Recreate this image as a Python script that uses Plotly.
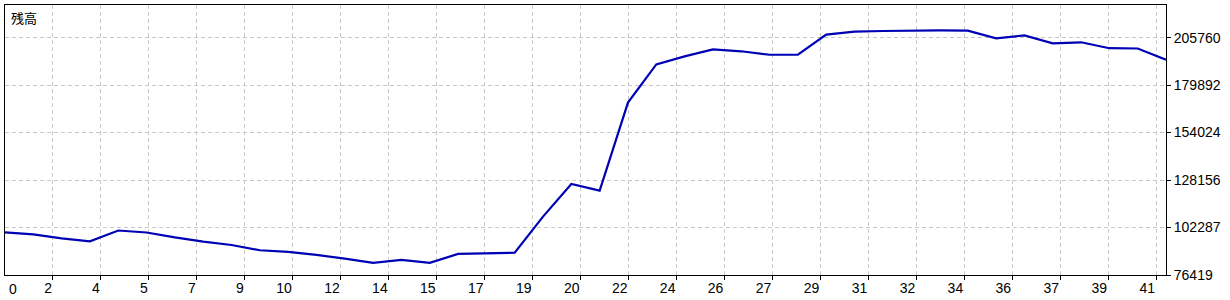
import plotly.graph_objects as go

# Deal index and balance values
deals = list(range(42))
balance = [
    99700, 98515, 96359, 94742, 100670, 99593, 96898, 94581, 92748, 89892,
    88976, 87359, 85311, 83048, 84664, 83048, 87898, 88383, 88545, 108215,
    126000, 122389, 170353, 191209, 195520, 199401, 198323, 196436, 196500, 207377,
    208993, 209371, 209640, 209694, 209532, 205382, 206999, 202688, 203227, 199994,
    199832, 193742,
]

# Axis tick labels
x_tick_labels = ["0", "2", "4", "5", "7", "9", "10", "12", "14", "15", "17", "19", "20",
                 "22", "24", "26", "27", "29", "31", "32", "34", "36", "37", "39", "41"]
y_tick_values = [76419, 102287, 128156, 154024, 179892, 205760]
y_tick_labels = ["76419", "102287", "128156", "154024", "179892", "205760"]
series_name = "残高"

# layout geometry
W, H = 1230, 300
L, R, T, B = 4, 64, 4, 23
plot_w = W - L - R
plot_h = H - T - B
x_max = deals[-1]
grid_px = 48
x_step = grid_px * x_max / plot_w
x_tick_vals = [k * x_step for k in range(len(x_tick_labels))]

y_min = y_tick_values[0]
y_step = y_tick_values[1] - y_tick_values[0]
y_max = y_min + plot_h / grid_px * y_step

tick_font = dict(family="Liberation Sans", size=14, color="black")

fig = go.Figure()
fig.add_trace(go.Scatter(
    x=deals, y=balance, mode="lines",
    line=dict(color="rgb(0,0,180)", width=2.2),
    hoverinfo="skip", showlegend=False,
))

grid_color = "rgb(200,200,200)"
fig.update_xaxes(
    range=[0, x_max],
    tickmode="array",
    tickvals=x_tick_vals[1:],
    ticktext=x_tick_labels[1:],
    ticklabelposition="outside left",
    ticks="outside", ticklen=4, tickcolor="black", tickwidth=1,
    showgrid=True, gridcolor=grid_color, gridwidth=1, griddash="4px,3px",
    showline=True, linecolor="black", linewidth=1, mirror=True,
    zeroline=False,
    tickfont=tick_font,
)
fig.update_yaxes(
    range=[y_min, y_max],
    side="right",
    tickmode="array",
    tickvals=y_tick_values,
    ticktext=y_tick_labels,
    ticks="outside", ticklen=4, tickcolor="black", tickwidth=1,
    showgrid=True, gridcolor=grid_color, gridwidth=1, griddash="4px,3px",
    showline=True, linecolor="black", linewidth=1, mirror=True,
    zeroline=False,
    tickfont=tick_font,
)

fig.add_annotation(
    text=x_tick_labels[0], x=0, xref="x", y=0, yref="paper",
    xanchor="left", yanchor="top", xshift=2, yshift=-4,
    showarrow=False, font=tick_font,
)
fig.add_annotation(
    text=series_name, x=0, xref="paper", y=1, yref="paper",
    xanchor="left", yanchor="top", xshift=4, yshift=-1,
    showarrow=False, font=dict(family="Noto Sans CJK JP", size=13, color="black"),
)

fig.update_layout(
    width=W, height=H,
    margin=dict(l=L, r=R, t=T, b=B, pad=0),
    paper_bgcolor="white", plot_bgcolor="white",
)

fig.write_html("out.html", config={"displayModeBar": False})
